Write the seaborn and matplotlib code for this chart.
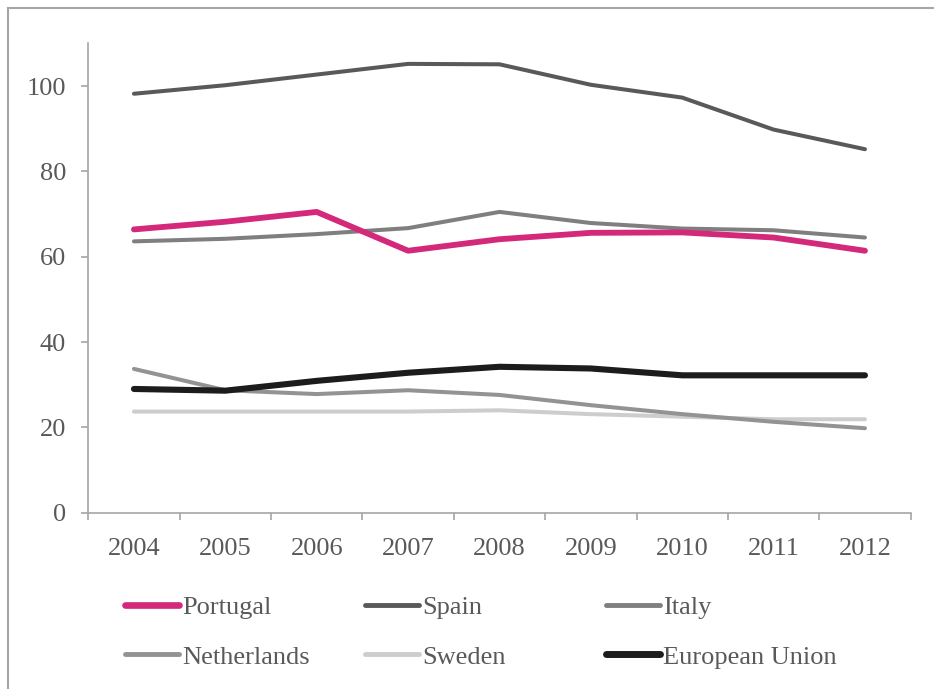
import matplotlib
matplotlib.use("Agg")
import matplotlib.pyplot as plt
from matplotlib.lines import Line2D
from matplotlib.patches import Rectangle
import numpy as np
import pandas as pd
import seaborn as sns

years = [2004, 2005, 2006, 2007, 2008, 2009, 2010, 2011, 2012]
portugal = [66.4, 68.2, 70.5, 61.4, 64.1, 65.6, 65.7, 64.5, 61.4]
spain = [98.2, 100.2, 102.7, 105.2, 105.1, 100.3, 97.3, 89.8, 85.2]
italy = [63.6, 64.2, 65.3, 66.7, 70.5, 67.9, 66.6, 66.2, 64.5]
netherlands = [33.7, 28.7, 27.8, 28.7, 27.6, 25.2, 23.1, 21.3, 19.8]
sweden = [23.7, 23.7, 23.7, 23.7, 24.0, 23.1, 22.5, 21.9, 21.9]
european_union = [29.0, 28.6, 30.9, 32.8, 34.2, 33.8, 32.2, 32.2, 32.2]
y_ticks = [0, 20, 40, 60, 80, 100]

series = {
    "Portugal": portugal,
    "Spain": spain,
    "Italy": italy,
    "Netherlands": netherlands,
    "Sweden": sweden,
    "European Union": european_union,
}
colors = {
    "Portugal": "#D4287A",
    "Spain": "#595959",
    "Italy": "#7F7F7F",
    "Netherlands": "#939393",
    "Sweden": "#CDCDCD",
    "European Union": "#1C1C1C",
}
widths = {
    "Portugal": 4.2,
    "Spain": 2.9,
    "Italy": 2.9,
    "Netherlands": 2.9,
    "Sweden": 2.9,
    "European Union": 4.4,
}
# draw order: thin grey series first, highlighted ones on top
draw_order = ["Sweden", "Netherlands", "Italy", "Spain", "European Union", "Portugal"]

df = pd.DataFrame(
    [(name, yr, v) for name, vals in series.items() for yr, v in zip(years, vals)],
    columns=["country", "year", "value"],
)

sns.set_style("white")
plt.rcParams["font.family"] = ["Liberation Serif", "DejaVu Serif"]
text_color = "#595959"
axis_color = "#A6A6A6"

fig = plt.figure(figsize=(9.34, 6.89), dpi=100)
ax = fig.add_axes([0.0945, 0.2559, 0.975 - 0.0945, 0.937 - 0.2559])

for name in draw_order:
    sub = df[df["country"] == name]
    sns.lineplot(
        data=sub, x="year", y="value", ax=ax, color=colors[name],
        linewidth=widths[name], solid_capstyle="round", solid_joinstyle="round",
        legend=False, zorder=3,
    )

ax.set_xlim(years[0] - 0.5, years[-1] + 0.5)
ax.set_ylim(0, 110)
ax.set_xlabel("")
ax.set_ylabel("")

for side in ["top", "right"]:
    ax.spines[side].set_visible(False)
for side in ["left", "bottom"]:
    ax.spines[side].set_color(axis_color)
    ax.spines[side].set_linewidth(1.2)

ax.set_yticks(y_ticks)
ax.set_yticklabels([str(t) for t in y_ticks])
ax.set_xticks(years)
ax.set_xticklabels([str(y) for y in years])
ax.set_xticks(np.arange(years[0] - 0.5, years[-1] + 0.6, 1.0), minor=True)

ax.tick_params(axis="y", which="major", left=True, length=5, width=1.2,
               color=axis_color, labelsize=19, labelcolor=text_color, pad=11)
ax.tick_params(axis="x", which="major", bottom=False, length=0,
               labelsize=19, labelcolor=text_color, pad=18)
ax.tick_params(axis="x", which="minor", bottom=True, length=5, width=1.2,
               color=axis_color)

# legend in three columns, two rows
columns = [["Portugal", "Netherlands"], ["Spain", "Sweden"], ["Italy", "European Union"]]
col_x = [0.134, 0.391, 0.649]
legends = []
for names, x0 in zip(columns, col_x):
    handles = [Line2D([], [], color=colors[n], linewidth=widths[n] + 0.6,
                      solid_capstyle="round") for n in names]
    leg = fig.legend(handles, names, loc="upper left", bbox_to_anchor=(x0, 0.136),
                     frameon=False, fontsize=19, handlelength=2.05, handletextpad=0.12,
                     labelspacing=1.0, borderpad=0, borderaxespad=0,
                     labelcolor=text_color)
    legends.append(leg)

# outer frame
fig.patches.append(Rectangle((7.5 / 934, -0.01), 1.0, 1 - 8.0 / 689 + 0.01,
                             transform=fig.transFigure, fill=False,
                             edgecolor=axis_color, linewidth=1.5))

fig.savefig("out.png", dpi=100)
